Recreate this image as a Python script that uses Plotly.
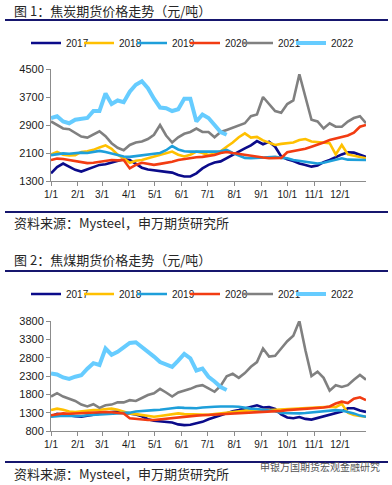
import plotly.graph_objects as go
import pandas as pd

W, H = 392, 485

# weekly sampling grid (dummy year used for month/day axis)
dates = pd.date_range("2021-01-01", periods=53, freq="7D")

years = ["2017", "2018", "2019", "2020", "2021", "2022"]
colors = ["#0B0B8A", "#FFC000", "#1E9FDA", "#F23C12", "#808080", "#66CCFF"]
widths = [2.6, 2.6, 2.6, 2.6, 2.6, 4.0]

# ---- 图1 焦炭期货价格 (元/吨) ----
coke_2017 = [1520, 1700, 1800, 1700, 1620, 1570, 1640, 1700, 1760, 1780, 1820, 1880, 1920, 1900,
             1800, 1680, 1630, 1600, 1570, 1560, 1540, 1470, 1430, 1430, 1520, 1660, 1760, 1830,
             1860, 1960, 2050, 2140, 2230, 2320, 2440, 2350, 2420, 2280, 2000, 1920, 1870, 1800,
             1760, 1710, 1740, 1840, 1900, 1990, 2060, 2120, 2110, 2050, 1990]
coke_2018 = [2060, 2130, 2050, 2030, 2040, 2130, 2150, 2190, 2260, 2320, 2220, 2050, 1950, 1820,
             1880, 1900, 1950, 2000, 2030, 2080, 2140, 2050, 2000, 2050, 2140, 2100, 2040, 2080,
             2150, 2280, 2400, 2550, 2660, 2540, 2560, 2460, 2400, 2330, 2360, 2380, 2400, 2470,
             2500, 2430, 2420, 2400, 2380, 2060, 2330, 2060, 2020, 1980, 1950]
coke_2019 = [2040, 2060, 2090, 2080, 2100, 2110, 2100, 2130, 2160, 2130, 2090, 2030, 2000, 1990,
             2010, 2040, 2040, 2080, 2100, 2180, 2300, 2200, 2150, 2140, 2140, 2130, 2120, 2140,
             2150, 2190, 2100, 2040, 1960, 1950, 1960, 1980, 2000, 1990, 1960, 1950, 1900, 1870,
             1840, 1810, 1800, 1820, 1860, 1900, 1950, 1910, 1900, 1900, 1900]
coke_2020 = [1900, 1940, 1930, 1900, 1860, 1840, 1810, 1820, 1840, 1870, 1900, 1890, 1900, 1660,
             1760, 1820, 1790, 1760, 1790, 1810, 1850, 1900, 1930, 1960, 1980, 1990, 2010, 2040,
             2100, 2130, 2100, 2070, 2040, 2010, 1990, 1970, 1950, 1950, 1960, 2120, 2150, 2190,
             2220, 2280, 2330, 2400, 2470, 2520, 2560, 2600, 2680, 2850, 2900]
coke_2021 = [3000, 2900, 2800, 2780, 2680, 2570, 2540, 2620, 2720, 2580, 2380, 2250, 2180, 2330,
             2400, 2430, 2500, 2620, 2900, 2600, 2400, 2550, 2650, 2700, 2800, 2700, 2700, 2550,
             2700, 2760, 2820, 2900, 2950, 3150, 3200, 3700, 3500, 3300, 3250, 3500, 3600, 4350,
             3700, 3050, 3000, 2800, 2950, 2850, 2850, 3000, 3100, 3150, 2950]
coke_2022 = [3100, 3150, 3000, 2950, 3050, 3080, 3100, 3300, 3300, 3800, 3500, 3600, 3550, 3850,
             4050, 4150, 3950, 3650, 3400, 3380, 3300, 3350, 3650, 3650, 3000, 3200, 3100, 2900,
             2700, 2620]

# ---- 图2 焦煤期货价格 (元/吨) ----
coal_2017 = [1200, 1270, 1250, 1220, 1200, 1190, 1220, 1260, 1290, 1300, 1320, 1330, 1300, 1280,
             1250, 1200, 1120, 1080, 1060, 1050, 1030, 980, 960, 970, 1000, 1050, 1120, 1180,
             1230, 1280, 1340, 1370, 1420, 1470, 1500, 1440, 1450, 1400, 1250, 1170, 1150, 1180,
             1130, 1110, 1150, 1190, 1230, 1270, 1330, 1420, 1420, 1360, 1320]
coal_2018 = [1370, 1410, 1380, 1330, 1320, 1340, 1370, 1370, 1380, 1400, 1410, 1380, 1330, 1280,
             1260, 1230, 1200, 1190, 1210, 1230, 1270, 1280, 1260, 1250, 1240, 1230, 1240, 1260,
             1280, 1290, 1310, 1330, 1350, 1370, 1370, 1360, 1370, 1380, 1390, 1400, 1410, 1400,
             1420, 1420, 1430, 1440, 1460, 1450, 1540, 1300, 1240, 1210, 1190]
coal_2019 = [1190, 1210, 1220, 1210, 1200, 1210, 1230, 1240, 1250, 1260, 1270, 1280, 1270, 1300,
             1330, 1350, 1370, 1370, 1380, 1400, 1410, 1440, 1430, 1420, 1420, 1440, 1460, 1460,
             1470, 1480, 1470, 1460, 1430, 1410, 1400, 1380, 1370, 1340, 1290, 1280, 1270, 1280,
             1290, 1310, 1320, 1340, 1360, 1370, 1360, 1330, 1280, 1220, 1190]
coal_2020 = [1230, 1260, 1280, 1270, 1280, 1290, 1290, 1300, 1310, 1320, 1310, 1290, 1280, 1150,
             1130, 1110, 1100, 1100, 1120, 1140, 1160, 1180, 1200, 1220, 1220, 1230, 1240, 1250,
             1260, 1270, 1280, 1290, 1300, 1310, 1320, 1310, 1320, 1330, 1350, 1370, 1380, 1390,
             1410, 1410, 1420, 1440, 1470, 1550, 1600, 1560, 1680, 1720, 1640]
coal_2021 = [1740, 1830, 1740, 1690, 1620, 1520, 1470, 1530, 1430, 1500, 1520, 1580, 1580, 1640,
             1620, 1700, 1780, 1830, 1950, 1850, 1740, 1850, 1890, 1950, 2020, 2050, 1960, 1870,
             2030, 2290, 2360, 2250, 2380, 2550, 2680, 3050, 2830, 2850, 3050, 3250, 3400, 3800,
             3000, 2300, 2420, 2250, 1900, 2050, 2000, 2050, 2200, 2330, 2200]
coal_2022 = [2370, 2340, 2260, 2220, 2280, 2320, 2500, 2650, 2600, 3050, 2880, 2960, 3080, 3200,
             3220, 3100, 2950, 2830, 2680, 2620, 2550, 2720, 2900, 2780, 2450, 2500, 2280, 2150,
             2000, 1920]

coke = [coke_2017, coke_2018, coke_2019, coke_2020, coke_2021, coke_2022]
coal = [coal_2017, coal_2018, coal_2019, coal_2020, coal_2021, coal_2022]

month_ticks = pd.date_range("2021-01-01", periods=12, freq="MS")
month_labels = ["1/1", "2/1", "3/1", "4/1", "5/1", "6/1", "7/1", "8/1", "9/1", "10/1", "11/1", "12/1"]
coke_ticks = [1300, 2100, 2900, 3700, 4500]
coal_ticks = [800, 1300, 1800, 2300, 2800, 3300, 3800]

fig = go.Figure()
for i, y in enumerate(years):
    fig.add_trace(go.Scatter(x=dates[:len(coke[i])], y=coke[i], mode="lines", name=y,
                             line=dict(color=colors[i], width=widths[i]),
                             legendwidth=30 if i == len(years) - 1 else None,
                             xaxis="x", yaxis="y", legend="legend"))
for i, y in enumerate(years):
    fig.add_trace(go.Scatter(x=dates[:len(coal[i])], y=coal[i], mode="lines", name=y,
                             line=dict(color=colors[i], width=widths[i]),
                             legendwidth=30 if i == len(years) - 1 else None,
                             xaxis="x2", yaxis="y2", legend="legend2"))

def px(x):
    return x / W

def py(y):
    return 1 - y / H

tick_font = dict(family="Liberation Sans, Arial, sans-serif", size=11, color="#1a1a1a")
xtick_font = dict(family="Liberation Sans, Arial, sans-serif", size=10, color="#1a1a1a")
axis_common = dict(showgrid=False, zeroline=False, showline=True, linecolor="#8c8c8c",
                   linewidth=1, ticks="outside", ticklen=4, tickcolor="#8c8c8c", tickwidth=1)
xr = ["2021-01-01", "2021-12-31"]
xdom = [px(51), px(366)]

legend_common = dict(orientation="h", xanchor="left", yanchor="middle",
                     font=dict(family="Liberation Sans, Arial, sans-serif", size=10, color="#1a1a1a"),
                     bgcolor="rgba(0,0,0,0)", borderwidth=0, entrywidth=8,
                     entrywidthmode="pixels", itemwidth=30, tracegroupgap=0)

fig.update_layout(
    width=W, height=H, margin=dict(l=0, r=0, t=0, b=0, autoexpand=False),
    paper_bgcolor="white", plot_bgcolor="white", hovermode=False,
    xaxis=dict(domain=xdom, range=xr, type="date", tickvals=month_ticks, ticktext=month_labels,
               anchor="y", tickfont=xtick_font, **axis_common),
    yaxis=dict(domain=[py(181), py(69)], range=[1300, 4500], tickvals=coke_ticks,
               anchor="x", tickfont=tick_font, **axis_common),
    xaxis2=dict(domain=xdom, range=xr, type="date", tickvals=month_ticks, ticktext=month_labels,
                anchor="y2", tickfont=xtick_font, **axis_common),
    yaxis2=dict(domain=[py(431), py(321)], range=[800, 3800], tickvals=coal_ticks,
                anchor="x2", tickfont=tick_font, **axis_common),
    legend=dict(x=px(26), y=py(43), **legend_common),
    legend2=dict(x=px(26), y=py(294), **legend_common),
)

navy = "#16166E"
for yy in [20, 212, 271, 462]:
    fig.add_shape(type="line", xref="paper", yref="paper", x0=px(5), x1=px(388),
                  y0=py(yy), y1=py(yy), line=dict(color=navy, width=2))

cjk = "Noto Sans CJK SC, sans-serif"
texts = [
    ("图 1：焦炭期货价格走势（元/吨）", 12, 10, 13),
    ("资料来源：Mysteel，申万期货研究所", 12, 223, 13),
    ("图 2：焦煤期货价格走势（元/吨）", 12, 259, 13),
    ("资料来源：Mysteel，申万期货研究所", 12, 473, 13),
]
for t, x0, y0, s in texts:
    fig.add_annotation(text=t, xref="paper", yref="paper", x=px(x0), y=py(y0),
                       xanchor="left", yanchor="middle", showarrow=False,
                       font=dict(family=cjk, size=s, color="#262626"))
fig.add_annotation(text="申银万国期货宏观金融研究", xref="paper", yref="paper", x=px(258), y=py(466),
                   xanchor="left", yanchor="middle", showarrow=False,
                   font=dict(family=cjk, size=10, color="#555555"))

fig.write_html("out.html", config={"displayModeBar": False, "staticPlot": True},
               post_script="document.body.style.margin='0';document.body.style.overflow='hidden';")
